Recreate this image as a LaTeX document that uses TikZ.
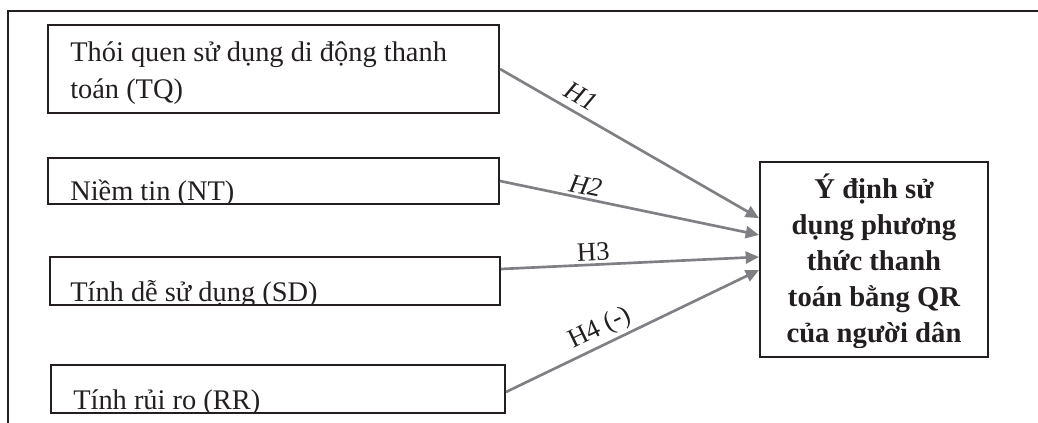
\documentclass[tikz,border=0pt]{standalone}
\usepackage{fontspec}
\setmainfont{Liberation Serif}
\usetikzlibrary{arrows.meta}
\definecolor{inkgray}{RGB}{128,128,132}
\definecolor{inkblack}{RGB}{35,31,32}
\tikzset{
  factor/.style={draw=inkblack, line width=1.5pt, inner sep=0pt},
  factortext/.style={inner sep=0pt, anchor=base west, align=left, text=inkblack,
    font=\fontsize{21.3}{27.75}\selectfont},
  hypo/.style={draw=inkgray, line width=2pt, -{Triangle[length=10pt,width=9pt]}},
  hlabel/.style={sloped, above, inner sep=2pt, text=inkblack,
    font=\fontsize{20}{24}\selectfont},
}
\begin{document}
\begin{tikzpicture}[x=0.75pt,y=-0.75pt]
		\useasboundingbox (0,0) rectangle (1038,423);
		\draw [inkblack, line width=2pt] (1038,11) -- (8,11) -- (8,423);
		
		% boxes
		\node[factor, minimum width=338.25pt, minimum height=66pt] (tq) at (273.5,69) {};
		\node[factor, minimum width=338.25pt, minimum height=34.5pt] (nt) at (273.5,181) {};
		\node[factor, minimum width=337.5pt, minimum height=36pt] (sd) at (275,281) {};
		\node[factor, minimum width=340.5pt, minimum height=36pt] (rr) at (278,389) {};
		\node[factor, minimum width=171pt, minimum height=146.25pt] (yd) at (874,259.5) {};
		
		% texts (cut at the box edge), placed by the last baseline
		\begin{scope}
		\clip (tq.south west) rectangle (tq.north east);
		\node[factortext] (tqtext) at (70,99) {Thói quen sử dụng di động thanh\\toán (TQ)};
		\end{scope}
		\begin{scope}
		\clip (nt.south west) rectangle (nt.north east);
		\node[factortext] (nttext) at (70,201) {Niềm tin (NT)};
		\end{scope}
		\begin{scope}
		\clip (sd.south west) rectangle (sd.north east);
		\node[factortext] (sdtext) at (70,302) {Tính dễ sử dụng (SD)};
		\end{scope}
		\begin{scope}
		\clip (rr.south west) rectangle (rr.north east);
		\node[factortext] (rrtext) at (73,410) {Tính rủi ro (RR)};
		\end{scope}
		\begin{scope}
		\clip (yd.north west) rectangle ([yshift=7.5pt]yd.south east);
		\node[anchor=base, align=center, inner sep=0pt, text=inkblack,
		  font=\bfseries\fontsize{21.5}{27}\selectfont] (ydtext) at (874,343)
		  {Ý định sử\\dụng phương\\thức thanh\\toán bằng QR\\của người dân};
		\end{scope}
		
		% hypotheses
		\draw [hypo] (tq.east) -- ([yshift=31pt]yd.west) node[hlabel, pos=0.28, above=3pt] {\textit{H1}};
		\draw [hypo] (nt.east) -- ([yshift=18.4pt]yd.west) node[hlabel, pos=0.32] {\textit{H2}};
		\draw [hypo] ([yshift=9pt]sd.east) -- ([yshift=1.9pt]yd.west) node[hlabel, pos=0.36] {H3};
		\draw [hypo] ([yshift=-2.25pt]rr.east) -- ([yshift=-7.9pt]yd.west) node[hlabel, pos=0.4] {H4 (-)};
\end{tikzpicture}
\end{document}
